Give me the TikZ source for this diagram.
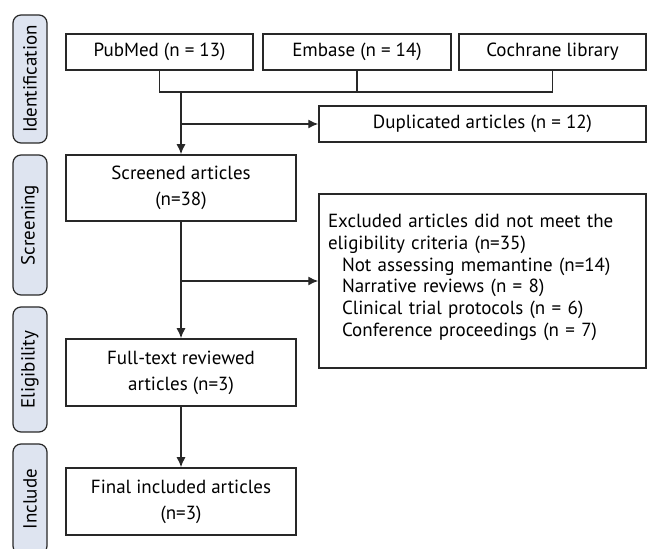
\documentclass[tikz,border=0pt]{standalone}
\usepackage{fontspec}
\setmainfont{PT Sans}
\usepackage{tikz}
\usetikzlibrary{positioning}
\usetikzlibrary{arrows.meta}
\definecolor{phasefill}{RGB}{222,228,240}
\definecolor{linegrey}{RGB}{40,40,40}

\begin{document}
\begin{tikzpicture}[x=0.5pt, y=-0.5pt, font=\fontsize{9.5}{10.85}\selectfont,
    box/.style = {draw=linegrey, line width=0.75pt, fill=white, inner sep=0pt, align=center, font=\fontsize{9.5}{13}\selectfont},
    phase/.style = {draw=linegrey, line width=0.6pt, fill=phasefill, rounded corners=4pt, rotate=90, minimum height=17pt, inner sep=0pt},
    link/.style = {draw=linegrey, line width=0.7pt},
    arrow/.style = {link, -{Latex[length=5pt, width=4.5pt]}}]
    \clip (0,0) rectangle (647,549);

    \node[phase, minimum width=64pt] (ident) at (30,79) {Identification};
    \node[phase, minimum width=70pt] (screen) at (30,225) {Screening};
    \node[phase, minimum width=62.5pt] (elig) at (30,369.5) {Eligibility};
    \node[phase, minimum width=55pt] (incl) at (30,499) {Include};

    \node[box, minimum width=93.5pt, minimum height=18pt] (pubmed) at (159.5,52) {PubMed (n = 13)};
    \node[box, minimum width=94pt, minimum height=18pt] (embase) at (357,52) {Embase (n = 14)};
    \node[box, minimum width=93.5pt, minimum height=18pt] (cochrane) at (552.5,52) {Cochrane library};
    \node[box, minimum width=163.5pt, minimum height=18pt] (dup) at (482.5,124) {Duplicated articles (n = 12)};
    \node[box, minimum width=115pt, minimum height=33pt] (screened) at (181,188) {Screened articles\\(n=38)};
    \node[box, font=\fontsize{9.5}{10.85}\selectfont, minimum height=87pt, inner xsep=4.5pt, text width=154.5pt, text height=3pt, align=left] (excl) at (482.5,281) {Excluded articles did not meet the\\
        eligibility criteria (n=35)\\
        \hspace*{7pt}Not assessing memantine (n=14)\\
        \hspace*{7pt}Narrative reviews (n = 8)\\
        \hspace*{7pt}Clinical trial protocols (n = 6)\\
        \hspace*{7pt}Conference proceedings (n = 7)};
    \node[box, minimum width=115pt, minimum height=33.5pt] (fulltext) at (181,372.5) {Full-text reviewed\\articles (n=3)};
    \node[box, minimum width=115pt, minimum height=33.5pt] (final) at (181,501.5) {Final included articles\\(n=3)};

    \coordinate (join) at (357,92);
    \draw[link] (pubmed.south) |- (join) -| (cochrane.south);
    \draw[link] (embase.south) -- (join);
    \draw[arrow] (screened.north |- join) -- (screened.north);
    \draw[arrow] (screened.north |- dup.west) -- (dup.west);
    \draw[arrow] (screened) -- (fulltext);
    \draw[arrow] (screened.south |- excl.west) -- (excl.west);
    \draw[arrow] (fulltext) -- (final);
\end{tikzpicture}
\end{document}
